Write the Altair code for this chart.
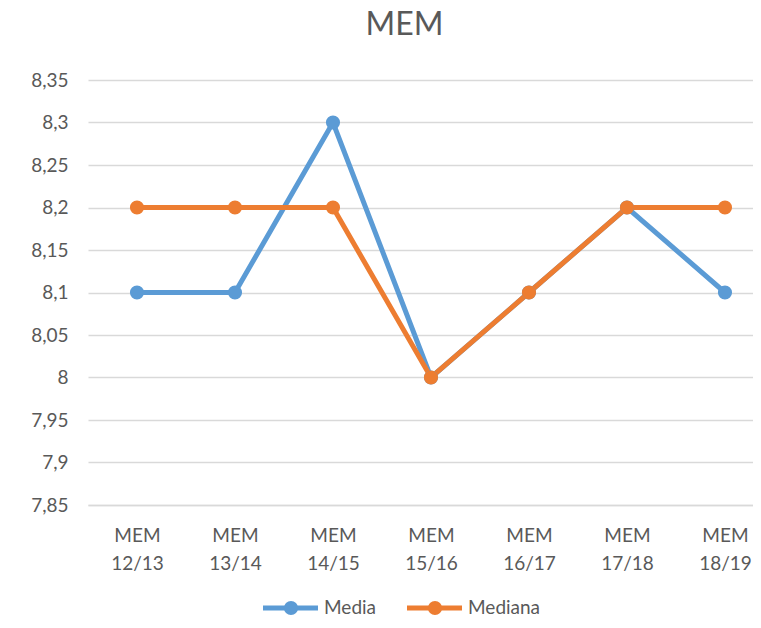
import altair as alt
import pandas as pd

categories = ["MEM 12/13", "MEM 13/14", "MEM 14/15", "MEM 15/16", "MEM 16/17", "MEM 17/18", "MEM 18/19"]
media = [8.1, 8.1, 8.3, 8.0, 8.1, 8.2, 8.1]
mediana = [8.2, 8.2, 8.2, 8.0, 8.1, 8.2, 8.2]
series = ["Media", "Mediana"]
colors = ["#5B9BD5", "#ED7D31"]
y_ticks = [7.85, 7.9, 7.95, 8.0, 8.05, 8.1, 8.15, 8.2, 8.25, 8.3, 8.35]

rows = []
for s, vals in zip(series, [media, mediana]):
    for i, (c, v) in enumerate(zip(categories, vals)):
        rows.append({"idx": i, "cat": c, "serie": s, "val": v})
df = pd.DataFrame(rows)
legend_df = pd.DataFrame({"serie": series})

FONT = "Lato"
GREY = "#595959"

cat_array = "[" + ",".join("'" + c + "'" for c in categories) + "]"

x = alt.X("idx:Q", title=None,
          scale=alt.Scale(domain=[-0.5, 6.286], nice=False, zero=False),
          axis=alt.Axis(values=list(range(len(categories))),
                        labelExpr="split(" + cat_array + "[datum.value], ' ')",
                        labelAngle=0, grid=False,
                        labelFontSize=19, labelColor=GREY, labelFont=FONT,
                        labelLineHeight=28, labelPadding=21, ticks=False,
                        domainColor="#D9D9D9", domainWidth=1.5, labelBaseline="top"))
y = alt.Y("val:Q", title=None,
          scale=alt.Scale(domain=[7.85, 8.35], nice=False, zero=False),
          axis=alt.Axis(values=y_ticks,
                        labelExpr="replace(format(datum.value, '.2~f'), '.', ',')",
                        labelFontSize=19, labelColor=GREY, labelFont=FONT,
                        labelPadding=20, ticks=False, domain=False,
                        gridColor="#D9D9D9", gridWidth=1.5))
color_scale = alt.Scale(domain=series, range=colors)

lines = alt.Chart(df).mark_line(strokeWidth=5).encode(
    x=x, y=y,
    color=alt.Color("serie:N", scale=color_scale, legend=None),
    detail="serie:N",
)

points = alt.Chart(df).mark_circle(size=200, opacity=1).encode(
    x=x, y=y,
    color=alt.Color("serie:N", scale=color_scale, legend=None),
)

# hand-built legend below the axis (line + marker + label per series)
LEG_Y = 528
legend_layers = []
for i, (s, col) in enumerate(zip(series, colors)):
    base = alt.Chart(legend_df).transform_filter(alt.datum.serie == s)
    x0 = 175 + 144 * i
    legend_layers.append(base.mark_rule(strokeWidth=5, color=col).encode(
        x=alt.value(x0), x2=alt.value(x0 + 55), y=alt.value(LEG_Y)))
    legend_layers.append(base.mark_circle(size=200, opacity=1, color=col).encode(
        x=alt.value(x0 + 28), y=alt.value(LEG_Y)))
    legend_layers.append(base.mark_text(align="left", baseline="middle", fontSize=19,
                                        font=FONT, color=GREY).encode(
        x=alt.value(x0 + 61), y=alt.value(LEG_Y), text="serie:N"))

chart = alt.layer(lines, points, *legend_layers).properties(
    width=665, height=425,
    autosize=alt.AutoSizeParams(type="none"),
    padding={"left": 80, "top": 72, "right": 0, "bottom": 115},
    title=alt.TitleParams("MEM", fontSize=32, color=GREY, font=FONT,
                          fontWeight="normal", anchor="middle", dx=-16,
                          offset=-3, baseline="bottom"),
).configure_view(stroke=None)

chart.save("out.html", embed_options={"renderer": "svg", "actions": False})
